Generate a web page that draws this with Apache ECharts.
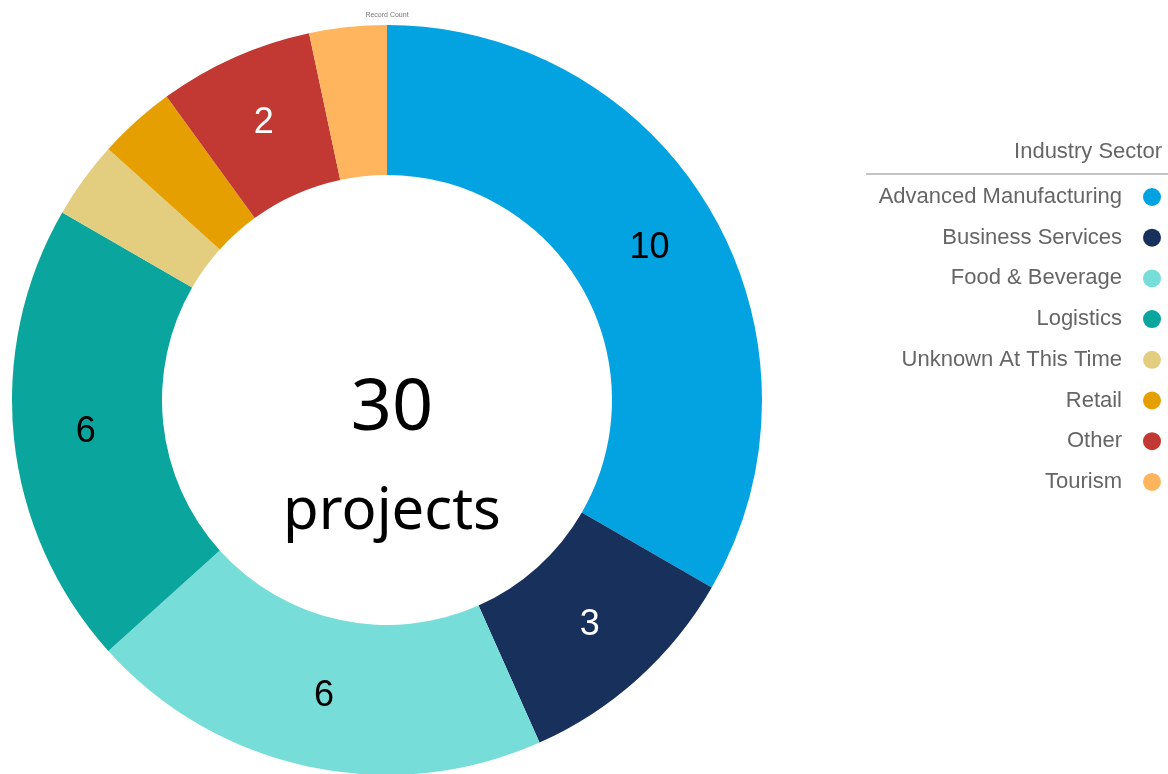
<!DOCTYPE html>
<html>
<head>
<meta charset="utf-8">
<script src="https://cdn.jsdelivr.net/npm/echarts@6/dist/echarts.min.js"></script>
<style>
html,body{margin:0;padding:0;background:#fff;}
#chart{width:1168px;height:774px;}
</style>
</head>
<body>
<div id="chart"></div>
<script>
const categories = ["Advanced Manufacturing","Business Services","Food & Beverage","Logistics","Unknown At This Time","Retail","Other","Tourism"];
const values = [10,3,6,6,1,1,2,1];
const colors = ["#03A2E0","#17305C","#76DDD8","#0AA59C","#E2CE7E","#E59F00","#C23832","#FFB55E"];
const labelColors = ["#000","#fff","#000","#000","#000","#000","#fff","#000"];
const totalValue = values.reduce((a,b)=>a+b,0);

const chart = echarts.init(document.getElementById('chart'));
const data = categories.map((c,i)=>({
  name:c, value:values[i],
  itemStyle:{color:colors[i]},
  label:{show: values[i] > 1, color: labelColors[i]}
}));
chart.setOption({
  animation:false,
  graphic:[
    {type:'text', x:387, y:12, style:{text:'Record Count', fill:'#777', fontSize:7, fontFamily:'Liberation Sans', textAlign:'center'}},
    {type:'text', x:1162, y:141, style:{text:'Industry Sector', fill:'#666', fontSize:22, fontFamily:'Liberation Sans', textAlign:'right'}},
    {type:'rect', left:866, top:173, shape:{width:302, height:2}, style:{fill:'#c4c4c4'}}
  ],
  legend:{
    orient:'vertical',
    right:7,
    top:186,
    padding:0,
    align:'right',
    icon:'circle',
    itemWidth:18,
    itemHeight:18,
    itemGap:18.7,
    selectedMode:false,
    textStyle:{fontFamily:'Liberation Sans', fontSize:22, color:'#666', padding:[0,16,0,0]},
    data:categories
  },
  series:[{
    type:'pie',
    center:[387,400],
    radius:[225,375],
    startAngle:90,
    clockwise:true,
    avoidLabelOverlap:false,
    label:{position:'inside', fontSize:36, fontFamily:'Liberation Sans', formatter:'{c}'},
    labelLine:{show:false},
    emphasis:{disabled:true},
    data:data
  }],
  title:[
    {text:String(totalValue), left:387, top:368, textAlign:'center',
     textStyle:{fontFamily:'Noto Sans', fontSize:72, fontWeight:'normal', color:'#000'}},
    {text:'projects', left:387, top:478, textAlign:'center',
     textStyle:{fontFamily:'Noto Sans', fontSize:58, fontWeight:'normal', color:'#000'}}
  ]
});
</script>
</body>
</html>
